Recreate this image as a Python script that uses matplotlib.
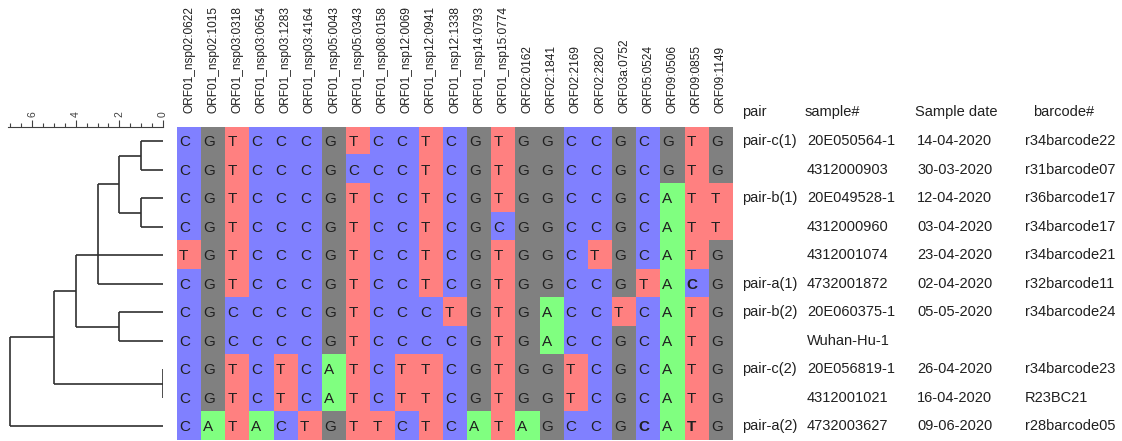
import matplotlib
matplotlib.use("Agg")
import matplotlib.pyplot as plt
import numpy as np
from matplotlib.colors import ListedColormap
from matplotlib.transforms import blended_transform_factory

plt.rcParams['font.family'] = ['Liberation Sans', 'DejaVu Sans']

# variant positions (columns)
positions = ['ORF01_nsp02:0622', 'ORF01_nsp02:1015', 'ORF01_nsp03:0318', 'ORF01_nsp03:0654',
             'ORF01_nsp03:1283', 'ORF01_nsp03:4164', 'ORF01_nsp05:0043', 'ORF01_nsp05:0343',
             'ORF01_nsp08:0158', 'ORF01_nsp12:0069', 'ORF01_nsp12:0941', 'ORF01_nsp12:1338',
             'ORF01_nsp14:0793', 'ORF01_nsp15:0774', 'ORF02:0162', 'ORF02:1841', 'ORF02:2169',
             'ORF02:2820', 'ORF03a:0752', 'ORF05:0524', 'ORF09:0506', 'ORF09:0855', 'ORF09:1149']

# bases per sample (rows, top to bottom)
seqs = ['CGTCCCGTCCTCGTGGCCGCGTG',
        'CGTCCCGCCCTCGTGGCCGCGTG',
        'CGTCCCGTCCTCGTGGCCGCATT',
        'CGTCCCGTCCTCGCGGCCGCATT',
        'TGTCCCGTCCTCGTGGCTGCATG',
        'CGTCCCGTCCTCGTGGCCGTACG',
        'CGCCCCGTCCCTGTGACCTCATG',
        'CGCCCCGTCCCCGTGACCGCATG',
        'CGTCTCATCTTCGTGGTCGCATG',
        'CGTCTCATCTTCGTGGTCGCATG',
        'CATACTGTTCTCATAGCCGCATG']

# (row, col) of letters printed in bold
bold_cells = [(5, 21), (10, 19), (10, 21)]

pairs = ['pair-c(1)', '', 'pair-b(1)', '', '', 'pair-a(1)', 'pair-b(2)', '', 'pair-c(2)', '', 'pair-a(2)']
samples = ['20E050564-1', '4312000903', '20E049528-1', '4312000960', '4312001074', '4732001872',
           '20E060375-1', 'Wuhan-Hu-1', '20E056819-1', '4312001021', '4732003627']
dates = ['14-04-2020', '30-03-2020', '12-04-2020', '03-04-2020', '23-04-2020', '02-04-2020',
         '05-05-2020', '', '26-04-2020', '16-04-2020', '09-06-2020']
barcodes = ['r34barcode22', 'r31barcode07', 'r36barcode17', 'r34barcode17', 'r34barcode21',
            'r32barcode11', 'r34barcode24', '', 'r34barcode23', 'R23BC21', 'r28barcode05']
headers = ['pair', 'sample#', 'Sample date', 'barcode#']

# dendrogram: node -> (children, height); integer children are rows
tree = {
    'a': ([0, 1], 1.0),
    'b': ([2, 3], 1.0),
    'c': (['a', 'b'], 2.0),
    'd': (['c', 4, 5], 3.0),
    'e': ([6, 7], 2.0),
    'f': (['d', 'e'], 4.0),
    'g': ([8, 9], 0.0),
    'h': (['f', 'g'], 5.0),
    'root': (['h', 10], 7.0),
}

bases = 'ACGT'
base_cols = ['#80ff80', '#8080ff', '#808080', '#ff8080']

W, H = 1122, 441
fig = plt.figure(figsize=(W / 100, H / 100), dpi=100)

grid_top, grid_bot = 127, 440.5
gx0, gx1 = 177, 733
ax = fig.add_axes([gx0 / W, 1 - grid_bot / H, (gx1 - gx0) / W, (grid_bot - grid_top) / H])
axt = fig.add_axes([8 / W, 1 - grid_bot / H, (163 - 8) / W, (grid_bot - grid_top) / H])

nrow, ncol = len(seqs), len(positions)
codes = np.array([[bases.index(ch) for ch in s] for s in seqs])
ax.imshow(codes, cmap=ListedColormap(base_cols), vmin=-0.5, vmax=3.5, aspect='auto',
          interpolation='nearest', extent=(-0.5, ncol - 0.5, nrow - 0.5, -0.5))
for i, s in enumerate(seqs):
    for j, ch in enumerate(s):
        ax.text(j - 0.42, i + 0.03, ch, ha='left', va='center', fontsize=11, color='#202020',
                fontweight='bold' if (i, j) in bold_cells else 'normal')
ax.set_xlim(-0.5, ncol - 0.5)
ax.set_ylim(nrow - 0.5, -0.5)
ax.xaxis.tick_top()
ax.set_xticks(range(ncol))
ax.set_xticklabels(positions, rotation=90, fontsize=8.6, color='#202020')
ax.tick_params(axis='x', length=0, pad=10)
ax.set_yticks([])
for sp in ax.spines.values():
    sp.set_visible(False)

# table on the right
tr = blended_transform_factory(fig.transFigure, ax.transData)
col_x = [742, 807, 917, 1025]
head_x = [742, 805, 915, 1033]
for hx, h in zip(head_x, headers):
    ax.text(hx / W, -1.03, h, transform=tr, ha='left', va='center', fontsize=10.5, color='#202020')
for i in range(nrow):
    for cx, val in zip(col_x, [pairs[i], samples[i], dates[i], barcodes[i]]):
        ax.text(cx / W, i, val, transform=tr, ha='left', va='center', fontsize=10.5, color='#202020')


# dendrogram
def draw(node):
    if isinstance(node, int):
        return 0.0, float(node)
    children, h = tree[node]
    pts = [draw(c) for c in children]
    ys = [p[1] for p in pts]
    for cx, cy in pts:
        axt.plot([cx, h], [cy, cy], color='#303030', lw=1.2, solid_capstyle='butt')
    axt.plot([h, h], [min(ys), max(ys)], color='#303030', lw=1.2, solid_capstyle='butt')
    return h, float(np.median(ys))


draw('root')
axt.set_xlim(7.1, 0)
axt.set_ylim(nrow - 0.5, -0.5)
axt.xaxis.tick_top()
axt.set_xticks([0, 2, 4, 6])
axt.set_xticks(np.arange(0, 7.01, 0.5), minor=True)
axt.set_xticklabels(['0', '2', '4', '6'], rotation=90, fontsize=7.5, color='#404040')
axt.tick_params(axis='x', which='major', direction='out', length=5, width=0.8, color='#404040', pad=2)
axt.tick_params(axis='x', which='minor', direction='out', length=3, width=0.8, color='#404040')
axt.set_yticks([])
for k in ['left', 'right', 'bottom']:
    axt.spines[k].set_visible(False)
axt.spines['top'].set_color('#404040')
axt.spines['top'].set_linewidth(0.8)

fig.savefig('out.png', dpi=100)
